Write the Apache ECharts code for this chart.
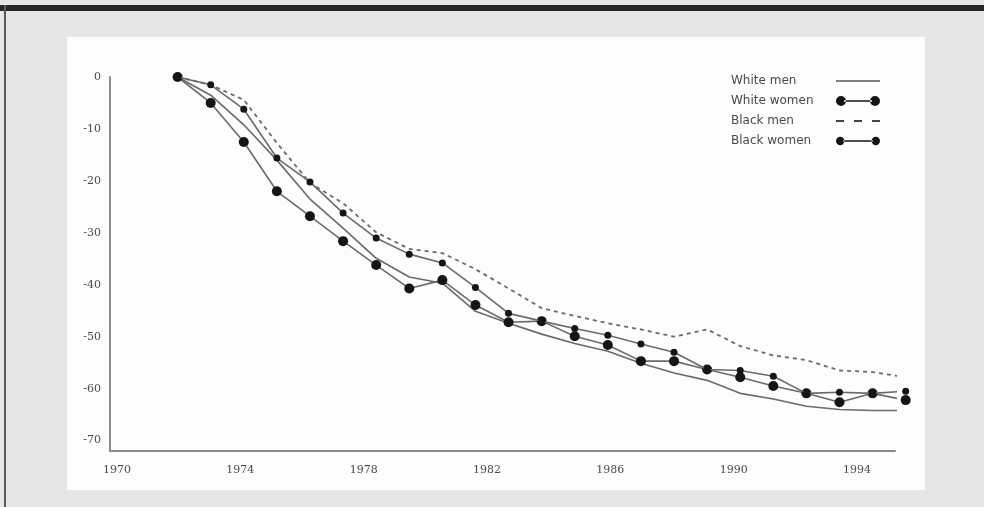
<!DOCTYPE html>
<html>
<head>
<meta charset="utf-8">
<script src="https://cdn.jsdelivr.net/npm/echarts@6/dist/echarts.min.js"></script>
<style>
  html, body { margin: 0; padding: 0; width: 984px; height: 507px; overflow: hidden; background: #e5e6e8; }
  #topbar { position: absolute; left: 0; top: 5px; width: 984px; height: 6px; background: #2b2627; }
  #leftline { position: absolute; left: 4px; top: 5px; width: 2px; height: 502px; background: #5a5a5a; }
  #panel { position: absolute; left: 67px; top: 37px; width: 858px; height: 453px; background: #fdfdfd; }
  #chart { position: absolute; left: 0; top: 0; width: 984px; height: 507px; }
</style>
</head>
<body>
<div id="topbar"></div>
<div id="leftline"></div>
<div id="panel"></div>
<div id="chart"></div>
<script>
// ---- data (percent change since 1972) ----
var years = [1972, 1973, 1974, 1975, 1976, 1977, 1978, 1979, 1980, 1981, 1982, 1983,
             1984, 1985, 1986, 1987, 1988, 1989, 1990, 1991, 1992, 1993, 1994];
var whiteMen   = [0, -3.5, -9.2, -16.0, -23.5, -29.1, -34.9, -38.5, -39.7, -45.1, -47.4, -49.5,
                  -51.3, -52.8, -55.1, -57.0, -58.4, -60.9, -62.0, -63.4, -64.0, -64.2, -64.2];
var whiteWomen = [0, -5.0, -12.5, -22.0, -26.8, -31.6, -36.2, -40.7, -39.1, -43.9, -47.2, -47.0,
                  -49.9, -51.6, -54.7, -54.7, -56.3, -57.8, -59.5, -60.9, -62.6, -60.9, -62.2];
var blackMen   = [0, -1.5, -4.4, -12.7, -20.4, -24.3, -29.9, -33.1, -33.9, -37.0, -40.7, -44.5,
                  -46.0, -47.4, -48.6, -50.0, -48.6, -51.8, -53.6, -54.5, -56.5, -56.8, -57.8];
var blackWomen = [0, -1.5, -6.2, -15.6, -20.2, -26.2, -31.0, -34.1, -35.8, -40.5, -45.5, -47.0,
                  -48.4, -49.7, -51.4, -53.0, -56.3, -56.5, -57.6, -60.9, -60.7, -60.9, -60.5];
var seriesNames = ['White men', 'White women', 'Black men', 'Black women'];
var xTickLabels = [1970, 1974, 1978, 1982, 1986, 1990, 1994];
var yTickLabels = [0, -10, -20, -30, -40, -50, -60, -70];

function pairs(vals) { return years.map(function (y, i) { return [y, vals[i]]; }); }

var lineColor = '#6a6a6a';
var markColor = '#151515';

var chart = echarts.init(document.getElementById('chart'), null, { renderer: 'canvas' });
chart.setOption({
  backgroundColor: 'transparent',
  animation: false,
  grid: { left: 110, top: 77, width: 785, height: 374, containLabel: false },
  xAxis: [
    {
      type: 'value', min: 1969.773, max: 1995.233,
      axisLine: { show: true, onZero: false, lineStyle: { color: '#8a8a8a', width: 2 } },
      axisTick: { show: false },
      splitLine: { show: false },
      axisLabel: {
        customValues: xTickLabels, margin: 14,
        fontFamily: 'DejaVu Serif', fontSize: 11, color: '#4a4a4a',
        formatter: function (v) { return String(v); }
      }
    },
    {
      type: 'value', min: 1969.9575, max: 1993.677, show: false
    }
  ],
  yAxis: {
    type: 'value', min: -72, max: 0,
    axisLine: { show: true, onZero: false, lineStyle: { color: '#8a8a8a', width: 2 } },
    axisTick: { show: false },
    splitLine: { show: false },
    axisLabel: {
      customValues: yTickLabels, margin: 9,
      fontFamily: 'DejaVu Serif', fontSize: 11, color: '#4a4a4a'
    }
  },
  legend: {
    orient: 'vertical', left: 731, top: 75, padding: 0,
    align: 'right', itemGap: 8, itemWidth: 44, itemHeight: 10,
    itemStyle: { borderWidth: 0 },
    selectedMode: false,
    formatter: function (name) { return '{a|' + name + '}'; },
    textStyle: {
      fontFamily: 'DejaVu Sans', fontSize: 12, color: '#4a4a4a',
      rich: { a: { width: 100, align: 'left', fontFamily: 'DejaVu Sans', fontSize: 12, color: '#4a4a4a' } }
    },
    data: [
      { name: seriesNames[0], icon: 'path://M0,0L44,0L44,1.6L0,1.6Z', itemStyle: { color: '#555' } },
      { name: seriesNames[1], icon: 'path://M0,5a5,5 0 1,0 10,0a5,5 0 1,0 -10,0ZM34,5a5,5 0 1,0 10,0a5,5 0 1,0 -10,0ZM8,4.3L36,4.3L36,5.7L8,5.7Z', itemStyle: { color: markColor } },
      { name: seriesNames[2], icon: 'path://M0,0L8,0L8,2.2L0,2.2ZM18,0L26,0L26,2.2L18,2.2ZM36,0L44,0L44,2.2L36,2.2Z', itemStyle: { color: '#444' } },
      { name: seriesNames[3], icon: 'path://M1,5a4,4 0 1,0 8,0a4,4 0 1,0 -8,0ZM35,5a4,4 0 1,0 8,0a4,4 0 1,0 -8,0ZM8,4.4L36,4.4L36,5.6L8,5.6Z', itemStyle: { color: markColor } }
    ]
  },
  series: [
    {
      name: seriesNames[0], type: 'line', xAxisIndex: 1, clip: false,
      data: pairs(whiteMen), symbol: 'none', color: lineColor,
      lineStyle: { color: lineColor, width: 1.6 }, z: 2
    },
    {
      name: seriesNames[1], type: 'line', xAxisIndex: 1, clip: false,
      data: pairs(whiteWomen), symbol: 'circle', symbolSize: 10, showSymbol: true,
      color: markColor,
      itemStyle: { color: markColor }, lineStyle: { color: lineColor, width: 1.6 }, z: 4
    },
    {
      name: seriesNames[2], type: 'line', xAxisIndex: 1, clip: false,
      data: pairs(blackMen), symbol: 'none', color: '#555',
      lineStyle: { color: '#6a6a6a', width: 1.8, type: [4, 4] }, z: 3
    },
    {
      name: seriesNames[3], type: 'line', xAxisIndex: 1, clip: false,
      data: pairs(blackWomen), symbol: 'circle', symbolSize: 7, showSymbol: true,
      color: markColor,
      itemStyle: { color: markColor }, lineStyle: { color: lineColor, width: 1.6 }, z: 5
    }
  ]
});
</script>
</body>
</html>
